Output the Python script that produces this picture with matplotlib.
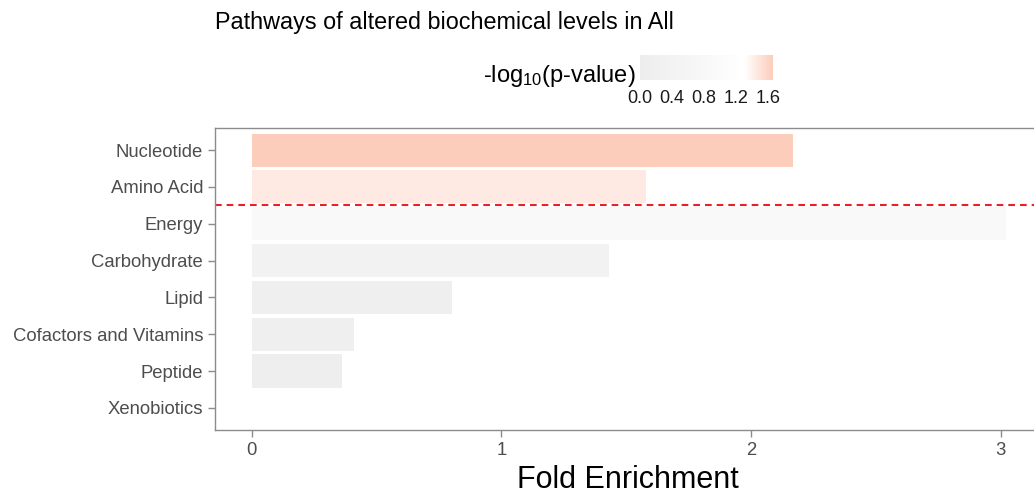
import matplotlib
matplotlib.use("Agg")
import matplotlib.pyplot as plt
from matplotlib.colors import LinearSegmentedColormap, Normalize
from matplotlib.cm import ScalarMappable

plt.rcParams["font.family"] = ["Liberation Sans", "DejaVu Sans"]
plt.rcParams["mathtext.fontset"] = "custom"
plt.rcParams["mathtext.rm"] = "Liberation Sans"
plt.rcParams["mathtext.default"] = "regular"

# pathways, top to bottom
pathways = ["Nucleotide", "Amino Acid", "Energy", "Carbohydrate", "Lipid",
            "Cofactors and Vitamins", "Peptide", "Xenobiotics"]
fold_enrichment = [2.17, 1.58, 3.02, 1.43, 0.80, 0.41, 0.36, 0.0]
neg_log10_p = [1.66, 1.45, 0.85, 0.35, 0.15, 0.12, 0.10, 0.0]
cbar_ticks = [0.0, 0.4, 0.8, 1.2, 1.6]
sig_cutoff = 1.3  # p = 0.05

p_min, p_max = 0.0, max(neg_log10_p)
mid = (sig_cutoff - p_min) / (p_max - p_min)
cmap = LinearSegmentedColormap.from_list(
    "grey_white_red", [(0.0, "#ededed"), (mid, "#ffffff"), (1.0, "#fccdbb")])
norm = Normalize(p_min, p_max)

fig = plt.figure(figsize=(10.34, 4.93), dpi=100)
ax = fig.add_axes([215 / 1034, 1 - 430 / 493, 825 / 1034, 302 / 493])

ypos = list(range(len(pathways), 0, -1))
ax.barh(ypos, fold_enrichment, height=0.9, color=cmap(norm(neg_log10_p)))

# cutoff between significant and non-significant pathways
n_sig = sum(p > sig_cutoff for p in neg_log10_p)
ax.axhline(len(pathways) - n_sig + 0.5, color="#e8202a",
           linestyle=(0, (3.2, 2.4)), linewidth=1.5)

ax.set_xlim(-0.148, 3.158)
ax.set_ylim(0.4, 8.6)
ax.set_yticks(ypos)
ax.set_yticklabels(pathways)
ax.set_xticks([0, 1, 2, 3])
ax.tick_params(axis="both", colors="#8c8c8c", labelcolor="#4d4d4d",
               labelsize=13.3, length=5, width=1)
for side in ax.spines.values():
    side.set_color("#8c8c8c")
    side.set_linewidth(1)
ax.set_xlabel("Fold Enrichment", fontsize=22, color="black")
ax.xaxis.set_label_coords((628 - 215) / 825, -0.115)

fig.text(215 / 1034, 1 - 22 / 493, "Pathways of altered biochemical levels in All",
         fontsize=16.8, ha="left", va="center", color="black")

# colour legend
cax = fig.add_axes([640 / 1034, 1 - 80 / 493, 133 / 1034, 25 / 493])
cbar = fig.colorbar(ScalarMappable(norm=norm, cmap=cmap), cax=cax,
                    orientation="horizontal", ticks=cbar_ticks)
cbar.outline.set_visible(False)
cbar.ax.set_xticklabels([f"{t:.1f}" for t in cbar_ticks])
cbar.ax.tick_params(length=0, labelsize=13, labelcolor="#1a1a1a", pad=7)
fig.text(636 / 1034, 1 - 76 / 493, "-log$_{10}$(p-value)", fontsize=17,
         ha="right", va="center", color="black")

fig.savefig("out.png", dpi=100)
